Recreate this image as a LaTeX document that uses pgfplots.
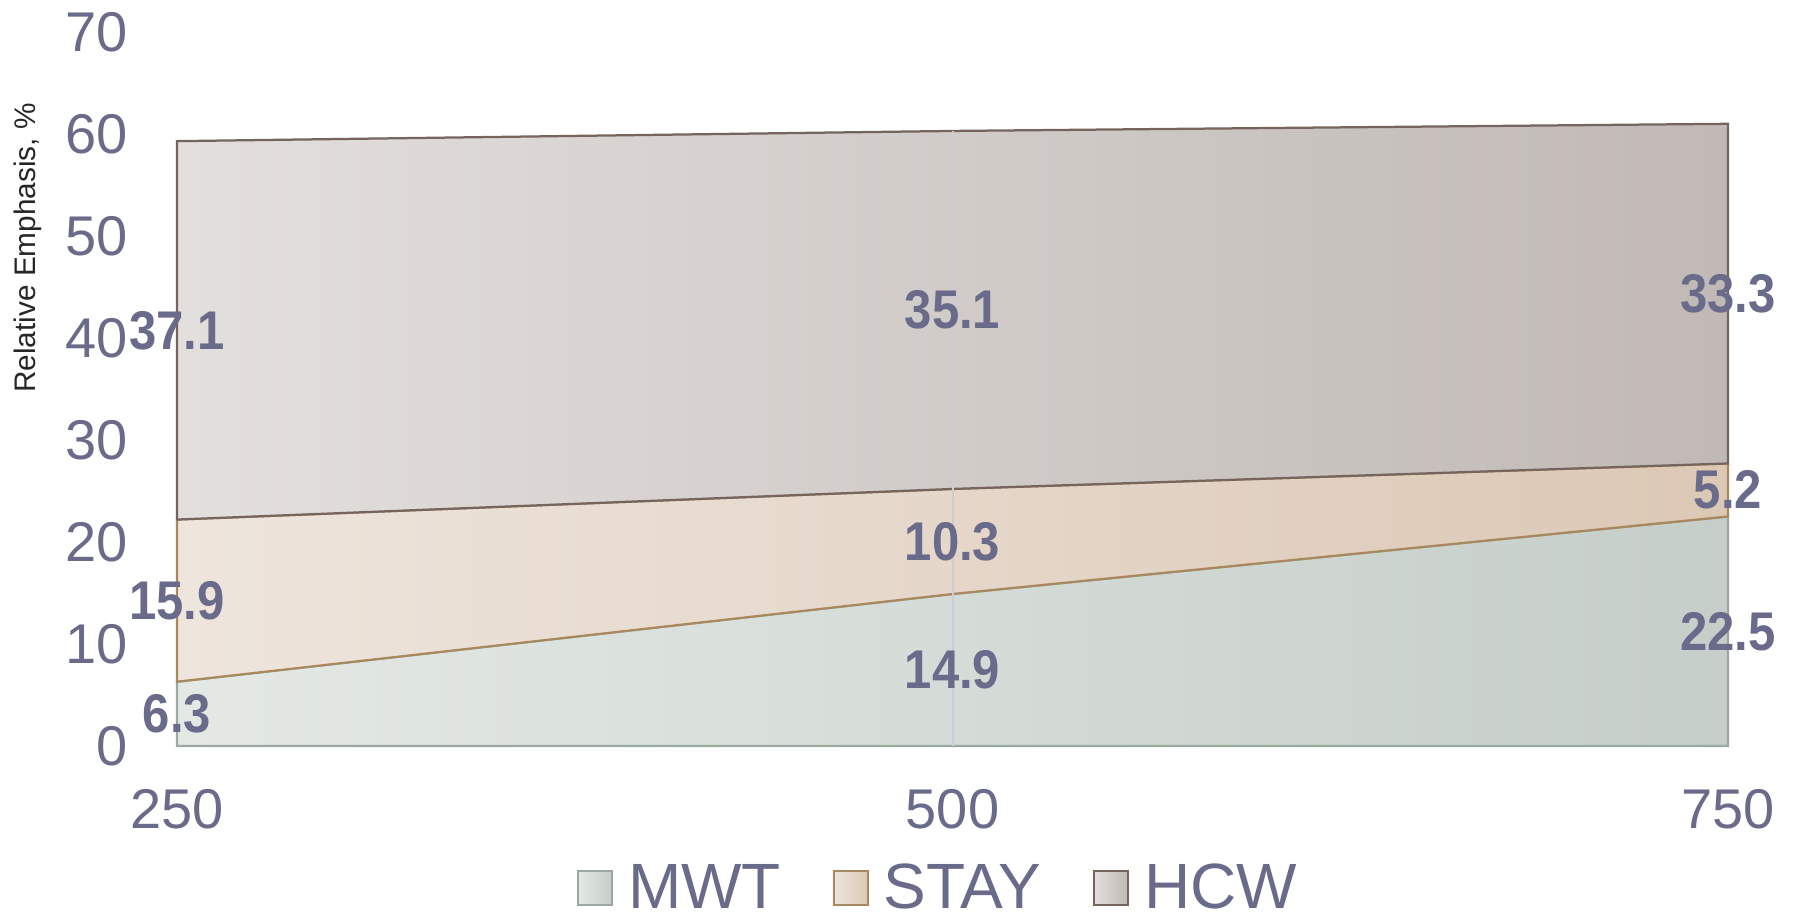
\documentclass[border=0pt]{standalone}
\usepackage{graphicx}
\usepackage{pgfplots}
\pgfplotsset{compat=1.18}
\usepackage{fontspec}
\setmainfont{Liberation Sans}

\definecolor{textc}{RGB}{106,106,138}
\definecolor{gridc}{RGB}{204,204,216}
\definecolor{basec}{RGB}{217,217,227}
\definecolor{mwtL}{RGB}{228,233,229}
\definecolor{mwtR}{RGB}{198,206,201}
\definecolor{mwtD}{RGB}{154,170,160}
\definecolor{stayL}{RGB}{238,229,221}
\definecolor{stayR}{RGB}{220,200,181}
\definecolor{stayD}{RGB}{168,137,95}
\definecolor{hcwL}{RGB}{227,223,220}
\definecolor{hcwR}{RGB}{192,185,182}
\definecolor{hcwD}{RGB}{117,101,93}

\begin{document}
\begin{tikzpicture}
\path[use as bounding box] (-70.8pt,-70.4pt) rectangle (648.8pt,298.4pt);
\begin{axis}[
  scale only axis,
  width=620.4pt, height=285.6pt,
  xmin=250, xmax=750, ymin=0, ymax=70,
  xtick={250,500,750},
  ytick={0,10,...,70},
  axis line style={draw=none},
  tick style={draw=none},
  clip=false,
  stack plots=y,
  reverse stacked plots=false,
  /pgf/number format/assume math mode=true,
  /pgf/number format/1000 sep={},
  ticklabel style={font=\fontsize{22.4pt}{26pt}\selectfont, text=textc, inner sep=0pt},
  yticklabel style={anchor=east, xshift=-19.6pt},
  xticklabel style={anchor=north, yshift=-17.2pt},
  ylabel={Relative Emphasis, \%},
  every axis y label/.style={at={(axis description cs:-0.096,0.6975)}, rotate=90, anchor=center,
    font=\fontsize{11.9pt}{14pt}\selectfont, text=black!85},
  legend columns=-1,
  legend style={at={(axis description cs:0.49,-0.199)}, anchor=center, draw=none, fill=none,
    font=\fontsize{25.6pt}{30pt}\selectfont, text=textc,
    nodes={inner sep=0pt},
    /tikz/every odd column/.append style={column sep=6pt},
    /tikz/every even column/.append style={column sep=20.7pt}},
  legend image code/.code={\draw[#1, line width=0.8pt] (0pt,-6.8pt) rectangle (13.6pt,6.8pt);},
  visualization depends on={rawy \as \rawy},
  nodes near coords={\scalebox{0.9}[1]{\pgfmathprintnumber[fixed, precision=1, fixed zerofill]{\rawy}}},
  every node near coord/.append style={anchor=center, inner sep=0pt,
    font=\fontsize{21.8pt}{24pt}\selectfont\bfseries, text=textc,
    yshift=-2.04pt*\rawy},
]
% light baseline along the x axis
\draw[basec, line width=1pt] (axis cs:250,0) -- (axis cs:750,0);

% stacked areas: MWT, STAY, HCW
\addplot[draw=mwtD, line width=0.9pt, left color=mwtL, right color=mwtR] coordinates {
  (250,6.3) (500,14.9) (750,22.5)} \closedcycle;
\addlegendentry{MWT}
\addplot[draw=stayD, line width=0.9pt, left color=stayL, right color=stayR] coordinates {
  (250,15.9) (500,10.3) (750,5.2)} \closedcycle;
\addlegendentry{STAY}
\addplot[draw=hcwD, line width=0.9pt, left color=hcwL, right color=hcwR] coordinates {
  (250,37.1) (500,35.1) (750,33.3)} \closedcycle;
\addlegendentry{HCW}

% vertical grid line at the middle category
\draw[gridc, line width=0.8pt] (axis cs:500,0) -- (axis cs:500,60.3);
\end{axis}
\end{tikzpicture}
\end{document}
